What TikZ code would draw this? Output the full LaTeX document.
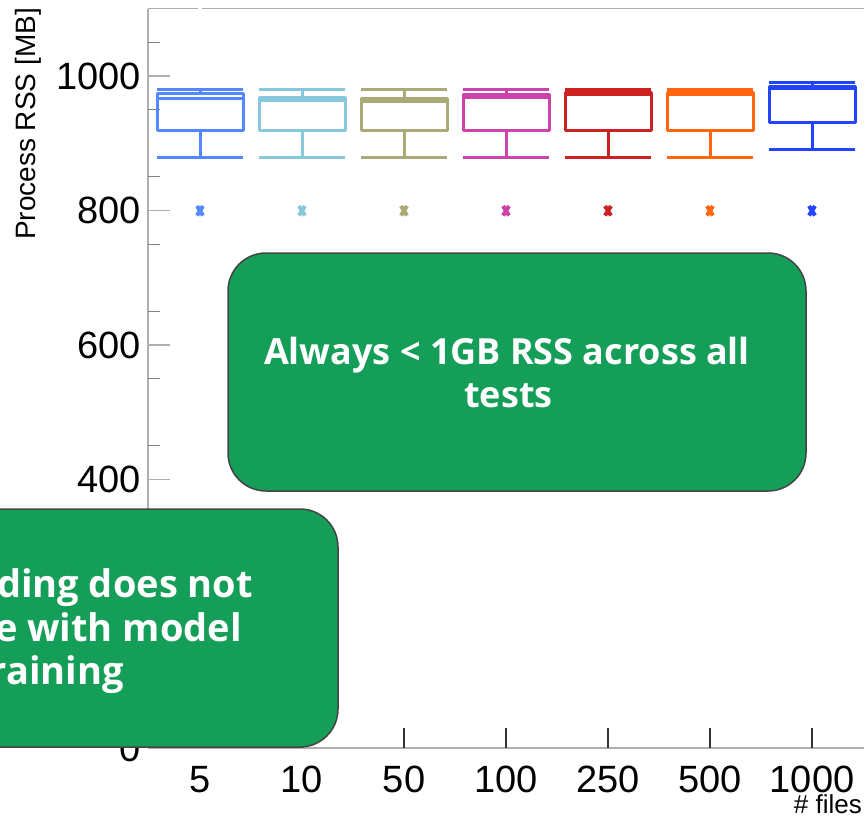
\documentclass[tikz,border=0pt]{standalone}
\usepackage{fontspec}
\setmainfont{Liberation Sans}
\newfontfamily\calloutfont{Open Sans}
\definecolor{cA}{RGB}{85,136,255}
\definecolor{cB}{RGB}{136,200,221}
\definecolor{cC}{RGB}{170,170,119}
\definecolor{cD}{RGB}{204,68,170}
\definecolor{cE}{RGB}{204,34,34}
\definecolor{cF}{RGB}{255,102,17}
\definecolor{cG}{RGB}{34,68,255}
\definecolor{callgreen}{RGB}{20,158,88}
\definecolor{callborder}{RGB}{68,68,68}
\definecolor{axisgray}{RGB}{175,175,175}
\definecolor{minorgray}{RGB}{130,130,130}
\newcommand\myboxplot[7]{%
  \draw[#2, line width=3pt, line join=round]
    (#1-43,#3) -- (#1+43,#3)
    (#1,#3) -- (#1,#4)
    (#1-43,#4) rectangle (#1+43,#6)
    (#1-43,#5) -- (#1+43,#5)
    (#1,#6) -- (#1,#7)
    (#1-43,#7) -- (#1+43,#7);
  \draw[#2, line width=4pt] (#1-3,206) -- (#1+3,215.5) (#1-3,215.5) -- (#1+3,206);
}
\begin{document}
\begin{tikzpicture}[x=1pt,y=-1pt,
  ticklabel/.style={font=\fontsize{38}{38}\selectfont, inner sep=0pt, text=black},
  callbox/.style={draw=callborder, line width=1.5pt, fill=callgreen, rounded corners=38pt},
  calltext/.style={font=\calloutfont\bfseries\fontsize{36}{36}\selectfont, text=white, inner sep=0pt}]
\useasboundingbox (0,0) rectangle (864,819);
\clip (0,0) rectangle (864,819);
\fill[white] (0,0) rectangle (864,819);
% axes
\draw[axisgray, line width=1.5pt] (148,8.5) -- (148,748);
\draw[axisgray, line width=1.5pt] (148,8.5) -- (198,8.5) (202,8.5) -- (864,8.5);
\draw[axisgray, line width=1.5pt] (148,748) -- (864,748);
% y minor ticks
\foreach \v in {50,150,...,1050}
  \draw[minorgray, line width=1.2pt] (148,748.5-0.6725*\v) -- (160,748.5-0.6725*\v);
% y major ticks
\foreach \v in {200,400,...,1000}
  \draw[axisgray, line width=1.5pt] (148,748.5-0.6725*\v) -- (170,748.5-0.6725*\v);
% y labels
\node[ticklabel, anchor=east] (y1000) at (141,76) {1000};
\node[ticklabel, anchor=east] (y800) at (141,210.5) {800};
\node[ticklabel, anchor=east] (y600) at (141,345) {600};
\node[ticklabel, anchor=east] (y400) at (141,479.5) {400};
\node[ticklabel, anchor=east] (y0) at (141,748) {0};
\node[font=\fontsize{28}{28}\selectfont, rotate=90, anchor=base, inner sep=0pt] (ytitle) at (35,124) {Process RSS [MB]};
% x ticks and labels
\foreach \x/\l in {200/5,302/10,404/50,506/100,608/250,710/500,812/1000} {
  \draw[black!80, line width=1.5pt] (\x,728) -- (\x,748);
  \node[ticklabel, anchor=base] (x\l) at (\x,792) {\l};
}
\node[font=\fontsize{26}{26}\selectfont, anchor=base east, inner sep=0pt] (xtitle) at (862,813) {\# files};
% box plots
\myboxplot{200}{cA}{89}{93}{98}{130}{157}
\myboxplot{302}{cB}{89}{97.5}{100.5}{130}{157}
\myboxplot{404}{cC}{89}{98.5}{101.5}{130}{157}
\myboxplot{506}{cD}{89}{94}{97.5}{130}{157}
\myboxplot{608}{cE}{89.5}{92}{94.5}{130}{157}
\myboxplot{710}{cF}{89.5}{92}{94.5}{130}{157}
\myboxplot{812}{cG}{82.5}{86.5}{88.5}{122}{149}
% callout 1
\draw[callbox] (228,253) rectangle (806,491);
\node[calltext, anchor=base] (c1a) at (507,364) {Always < 1GB RSS across all};
\node[calltext, anchor=base] (c1b) at (508.5,407) {tests};
% callout 2
\draw[callbox] (-300,509) rectangle (338,747);
\node[calltext, font=\calloutfont\bfseries\fontsize{38}{38}\selectfont, anchor=base east] (c2a) at (253,597) {ding does not};
\node[calltext, font=\calloutfont\bfseries\fontsize{38}{38}\selectfont, anchor=base east] (c2b) at (242,641) {e with model};
\node[calltext, font=\calloutfont\bfseries\fontsize{38}{38}\selectfont, anchor=base east] (c2c) at (124,684) {raining};
\end{tikzpicture}
\end{document}
